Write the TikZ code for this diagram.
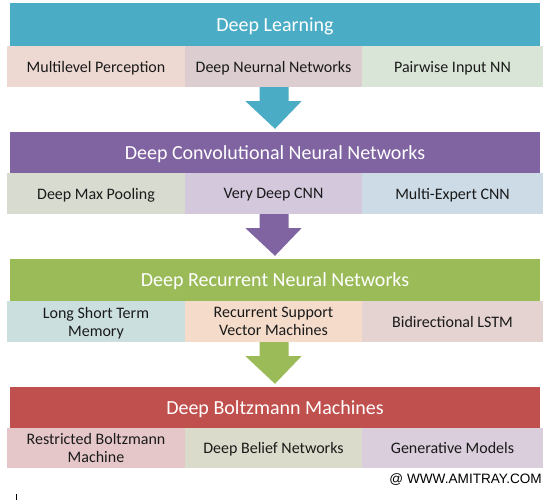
\documentclass[tikz,border=0pt]{standalone}
\usepackage{fontspec}
\setmainfont{Carlito}
\newfontfamily\wmfont{Liberation Sans}
\usetikzlibrary{calc}
\definecolor{cTeal}{HTML}{4BACC6}
\definecolor{cPurple}{HTML}{8064A2}
\definecolor{cGreen}{HTML}{9BBB59}
\definecolor{cRed}{HTML}{C0504D}
\definecolor{sA1}{HTML}{EED9D2}
\definecolor{sA2}{HTML}{DCCDD0}
\definecolor{sA3}{HTML}{D9E6D7}
\definecolor{sB1}{HTML}{D8DCD0}
\definecolor{sB2}{HTML}{D4C8DD}
\definecolor{sB3}{HTML}{CCDBE6}
\definecolor{sC1}{HTML}{CCDFDF}
\definecolor{sC2}{HTML}{F4DBCA}
\definecolor{sC3}{HTML}{E4D3D0}
\definecolor{sD1}{HTML}{E6C7C9}
\definecolor{sD2}{HTML}{DBDBCB}
\definecolor{sD3}{HTML}{DACDDC}
\definecolor{subtext}{HTML}{1A1A1A}
\tikzset{
  hdr/.style={draw=none, inner sep=0pt, minimum width=530pt, text=white,
    text depth=0pt, font=\fontsize{20}{24}\selectfont},
  subcell/.style={draw=none, inner sep=0pt, text=subtext, align=center,
    text depth=0pt, font=\fontsize{16}{18}\selectfont}
}
\newcommand{\blockarr}[3]{%
  % #1 from node, #2 to node, #3 colour
  \fill[#3] ($(#1.south)+(-14,0)$) -- ($(#1.south)+(15,0)$) -- ($(#1.south)+(15,14)$)
    -- ($(#1.south)+(28,14)$) -- ($(#2.north)+(0,-3)$) -- ($(#1.south)+(-28,14)$)
    -- ($(#1.south)+(-14,14)$) -- cycle;}
\begin{document}
\begin{tikzpicture}[x=1pt,y=-1pt]
\useasboundingbox[fill=white] (0,0) rectangle (557,500);
% Row 1
\node[hdr, fill=cTeal, minimum height=43pt] (h1) at (275,24.5) {Deep Learning};
\node[subcell, fill=sA1, minimum width=178pt, minimum height=41pt] (a1) at (96,66.5) {Multilevel Perception};
\node[subcell, fill=sA2, minimum width=177pt, minimum height=41pt] (a2) at (273.5,66.5) {Deep Neurnal Networks};
\node[subcell, fill=sA3, minimum width=181pt, minimum height=41pt] (a3) at (452.5,66.5) {Pairwise Input NN};
% Row 2
\node[hdr, fill=cPurple, minimum height=41pt] (h2) at (275,152.5) {Deep Convolutional Neural Networks};
\node[subcell, fill=sB1, minimum width=178pt, minimum height=41pt] (b1) at (96,193.5) {Deep Max Pooling};
\node[subcell, fill=sB2, minimum width=177pt, minimum height=41pt] (b2) at (273.5,193.5) {Very Deep CNN};
\node[subcell, fill=sB3, minimum width=181pt, minimum height=41pt] (b3) at (452.5,193.5) {Multi-Expert CNN};
% Row 3
\node[hdr, fill=cGreen, minimum height=42pt] (h3) at (275,280) {Deep Recurrent Neural Networks};
\node[subcell, fill=sC1, minimum width=178pt, minimum height=41pt] (c1) at (96,321.5) {Long Short Term\\Memory};
\node[subcell, fill=sC2, minimum width=177pt, minimum height=41pt] (c2) at (273.5,321.5) {Recurrent Support\\Vector Machines};
\node[subcell, fill=sC3, minimum width=181pt, minimum height=41pt] (c3) at (452.5,321.5) {Bidirectional LSTM};
% Row 4
\node[hdr, fill=cRed, minimum height=41pt] (h4) at (275,407.5) {Deep Boltzmann Machines};
\node[subcell, fill=sD1, minimum width=178pt, minimum height=40pt] (d1) at (96,448) {Restricted Boltzmann\\Machine};
\node[subcell, fill=sD2, minimum width=177pt, minimum height=40pt] (d2) at (273.5,448) {Deep Belief Networks};
\node[subcell, fill=sD3, minimum width=181pt, minimum height=40pt] (d3) at (452.5,448) {Generative Models};
% Arrows
\blockarr{a2}{h2}{cTeal}
\blockarr{b2}{h3}{cPurple}
\blockarr{c2}{h4}{cGreen}
% Watermark
\node[anchor=east, inner sep=0pt, font=\wmfont\fontsize{13.6}{15}\selectfont] (wm) at (542,480) {@ WWW.AMITRAY.COM};
% small tick
\coordinate (t1) at (16,494);
\coordinate (t2) at (16,500);
\draw[line width=0.8pt] (t1) -- (t2);
\end{tikzpicture}
\end{document}
